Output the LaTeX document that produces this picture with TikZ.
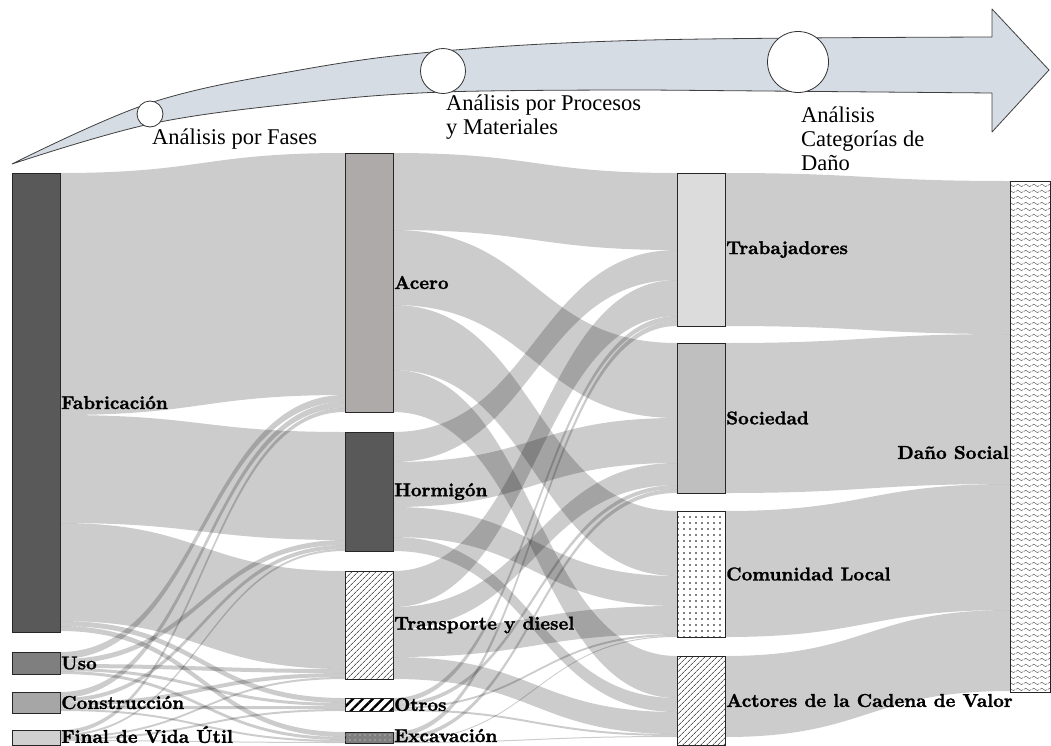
\documentclass[tikz,border=0pt]{standalone}
\usepackage{fontspec}
\newfontfamily\fuentefase{Liberation Serif}
\newfontfamily\fuenteetiq{lmroman10-bold}[Extension=.otf, FakeBold=1.5]
\usepackage{xcolor}
\usetikzlibrary{calc, backgrounds, patterns, patterns.meta}

\definecolor{flechaazul}{HTML}{D6DCE4}
\definecolor{fabgris}{HTML}{595959}
\definecolor{usogris}{HTML}{7F7F7F}
\definecolor{consgris}{HTML}{A6A6A6}
\definecolor{fingris}{HTML}{D0D0D0}
\definecolor{acerogris}{HTML}{AEAAAA}
\definecolor{trabgris}{HTML}{DCDCDC}
\definecolor{socgris}{HTML}{BFBFBF}

\tikzdeclarepattern{
  name=ondas,
  type=uncolored,
  bounding box={(0pt,0pt) and (8pt,6pt)},
  tile size={(8pt,6pt)},
  code={\draw[line width=0.45pt] (0pt,3pt) sin (2pt,4.5pt) cos (4pt,3pt) sin (6pt,1.5pt) cos (8pt,3pt);}
}

% flujo: origen, desplazamiento, destino, desplazamiento, ancho
\newcommand{\flujo}[5]{%
  \fill[flujo] ($(#1.north east)+(0,#2)$) .. controls +(142,0) and +(-142,0) .. ($(#3.north west)+(0,#4)$)
    -- ($(#3.north west)+(0,#4+#5)$) .. controls +(-142,0) and +(142,0) .. ($(#1.north east)+(0,#2+#5)$) -- cycle;}

\begin{document}
\begin{tikzpicture}[x=1pt, y=-1pt,
    caja/.style={draw=black!85, line width=0.8pt, anchor=north west, inner sep=0pt, outer sep=0pt, minimum width=48pt},
    etiqueta/.style={font=\fuenteetiq\fontsize{18.6}{21}\selectfont, inner sep=0pt, label distance=1pt},
    textofase/.style={font=\fuentefase\fontsize{22.5}{24}\selectfont, inner sep=0pt, align=left},
    flujo/.style={fill=black, fill opacity=0.2},
    flecha/.style={draw=black!75, fill=flechaazul, line width=0.8pt, line join=round},
    circulo/.style={circle, draw=black!80, fill=white, line width=0.8pt, inner sep=0pt}]
  \useasboundingbox (0,0) rectangle (1051,745);

  % Flecha de fases:
  \draw[flecha] plot[smooth, tension=0.6] coordinates {(12,164) (150,103) (300,70) (443,51) (650,40) (992,37)}
    -- (992,9) -- (1049,70) -- (992,132) -- (992,93)
    -- plot[smooth, tension=0.6] coordinates {(650,90) (443,92) (300,103) (150,124) (12,164)} -- cycle;
  \node[circulo, minimum size=26pt] (c1) at (150,114) {};
  \node[circulo, minimum size=45pt] (c2) at (443,71) {};
  \node[circulo, minimum size=61pt] (c3) at (798,62) {};
  \node[textofase, anchor=west] (t1) at (152,139) {Análisis por Fases};
  \node[textofase, anchor=north west] (t2) at (446,95) {Análisis por Procesos\\y Materiales};
  \node[textofase, anchor=north west] (t3) at (801,107) {Análisis\\Categorías de\\Daño};

  % Fases:
  \node[caja, fill=fabgris, minimum height=459pt, label={[etiqueta]east:Fabricación}] (fab) at (12,173) {};
  \node[caja, fill=usogris, minimum height=22pt, label={[etiqueta]east:Uso}] (uso) at (12,652) {};
  \node[caja, fill=consgris, minimum height=21pt, label={[etiqueta]east:Construcción}] (cons) at (12,692) {};
  \node[caja, fill=fingris, minimum height=15pt, label={[etiqueta, yshift=3pt]east:Final de Vida Útil}] (fin) at (12,730) {};
  % Procesos y materiales:
  \node[caja, fill=acerogris, minimum height=259pt, label={[etiqueta]east:Acero}] (acero) at (345,153) {};
  \node[caja, fill=fabgris, minimum height=119pt, label={[etiqueta]east:Hormigón}] (horm) at (345,432) {};
  \node[caja, fill=white, pattern={Lines[angle=45, distance=4pt, line width=0.6pt]}, minimum height=108pt, label={[etiqueta]east:Transporte y diesel}] (trans) at (345,571) {};
  \node[caja, fill=white, pattern={Lines[angle=45, distance=7pt, line width=2.4pt]}, minimum height=13pt, label={[etiqueta]east:Otros}] (otros) at (345,698) {};
  \node[caja, fill=usogris, postaction={pattern={Dots[distance=5pt, radius=0.6pt]}, pattern color=white!80!gray}, minimum height=11pt, label={[etiqueta, yshift=2pt]east:Excavación}] (excav) at (345,732) {};
  % Categorias de dano:
  \node[caja, fill=trabgris, minimum height=153pt, label={[etiqueta]east:Trabajadores}] (trab) at (677,173) {};
  \node[caja, fill=socgris, minimum height=150pt, label={[etiqueta]east:Sociedad}] (soc) at (677,343) {};
  \node[caja, fill=white, pattern={Dots[distance=6pt, radius=0.9pt]}, minimum height=126pt, label={[etiqueta]east:Comunidad Local}] (com) at (677,511) {};
  \node[caja, fill=white, pattern={Lines[angle=45, distance=4pt, line width=0.6pt]}, minimum height=89pt, label={[etiqueta]east:Actores de la Cadena de Valor}] (act) at (677,656) {};
  \node[caja, fill=white, pattern=ondas, pattern color=black!70, minimum width=40pt, minimum height=511pt, label={[etiqueta, yshift=-16pt]west:Daño Social}] (dano) at (1010,181) {};

  \begin{pgfonlayer}{background}
    % fases -> materiales
    \flujo{fab}{0}{acero}{0}{242}
    \flujo{fab}{242}{horm}{0}{108}
    \flujo{fab}{350}{trans}{0}{98}
    \flujo{fab}{448}{otros}{0}{5}
    \flujo{fab}{453}{excav}{0}{5}
    \flujo{uso}{0}{acero}{242}{7}
    \flujo{uso}{7}{horm}{108}{5}
    \flujo{uso}{12}{trans}{98}{4}
    \flujo{uso}{16}{otros}{5}{3}
    \flujo{uso}{19}{excav}{5}{3}
    \flujo{cons}{0}{acero}{249}{6}
    \flujo{cons}{6}{horm}{113}{4}
    \flujo{cons}{10}{trans}{102}{4}
    \flujo{cons}{14}{otros}{8}{3}
    \flujo{cons}{17}{excav}{8}{2}
    \flujo{fin}{0}{acero}{255}{4}
    \flujo{fin}{4}{horm}{117}{2}
    \flujo{fin}{6}{trans}{106}{2}
    \flujo{fin}{8}{otros}{11}{2}
    \flujo{fin}{10}{excav}{10}{1}
    % materiales -> categorias
    \flujo{acero}{0}{trab}{0}{77}
    \flujo{acero}{77}{soc}{0}{75}
    \flujo{acero}{152}{com}{0}{65}
    \flujo{acero}{217}{act}{0}{42}
    \flujo{horm}{0}{trab}{77}{30}
    \flujo{horm}{30}{soc}{75}{45}
    \flujo{horm}{75}{com}{65}{30}
    \flujo{horm}{105}{act}{42}{14}
    \flujo{trans}{0}{trab}{107}{36}
    \flujo{trans}{36}{soc}{120}{22}
    \flujo{trans}{58}{com}{95}{28}
    \flujo{trans}{86}{act}{56}{22}
    \flujo{otros}{0}{trab}{143}{5}
    \flujo{otros}{5}{soc}{142}{4}
    \flujo{otros}{9}{com}{123}{2}
    \flujo{otros}{11}{act}{78}{2}
    \flujo{excav}{0}{trab}{148}{5}
    \flujo{excav}{5}{soc}{146}{4}
    \flujo{excav}{9}{com}{125}{1}
    \flujo{excav}{10}{act}{80}{1}
    % categorias -> dano social
    \flujo{trab}{0}{dano}{0}{153}
    \flujo{soc}{0}{dano}{153}{150}
    \flujo{com}{0}{dano}{303}{126}
    \flujo{act}{0}{dano}{429}{81}
  \end{pgfonlayer}
\end{tikzpicture}
\end{document}
